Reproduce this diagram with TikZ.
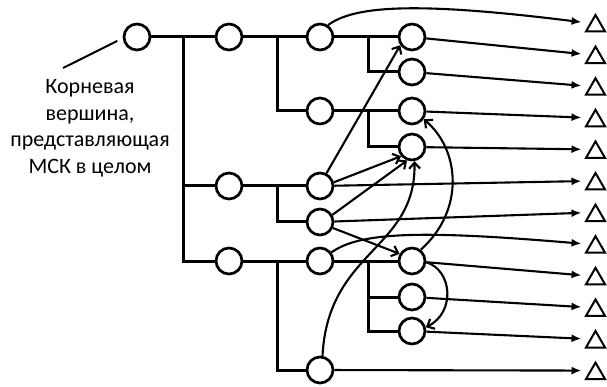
\documentclass[tikz,border=0pt]{standalone}
\usepackage{fontspec}
\setmainfont{Carlito}
\usetikzlibrary{arrows.meta,shapes.geometric,calc}
\begin{document}
\begin{tikzpicture}[x=1pt,y=-1pt,
  vert/.style={circle,draw,line width=2.7pt,minimum size=26pt,inner sep=0pt,fill=white},
  leaf/.style={regular polygon,regular polygon sides=3,draw,line width=2pt,minimum size=22pt,inner sep=0pt},
  tree/.style={line width=3pt},
  outarr/.style={line width=2.1pt,-{Latex[length=10pt,width=8pt]},shorten >=6.5pt},
  linkarr/.style={line width=2.1pt,-{Straight Barb[length=6pt,width=11pt]}},
  lbltext/.style={font=\fontsize{22}{26.7}\selectfont,align=center,anchor=north,inner sep=0pt}
]
\useasboundingbox (0,0) rectangle (607,387);
% vertices
\node[vert] (R) at (137,37) {};
\node[vert] (A) at (229,37) {};
\node[vert] (B) at (229,186) {};
\node[vert] (C) at (229,261) {};
\node[vert] (A1) at (320,37) {};
\node[vert] (A2) at (320,111) {};
\node[vert] (B1) at (320,186) {};
\node[vert] (B2) at (320,222) {};
\node[vert] (C1) at (320,261) {};
\node[vert] (C2) at (320,370) {};
\node[vert] (A1a) at (412,37) {};
\node[vert] (A1b) at (412,72) {};
\node[vert] (A2a) at (412,111) {};
\node[vert] (A2b) at (412,147) {};
\node[vert] (C1a) at (412,261) {};
\node[vert] (C1b) at (412,297) {};
\node[vert] (C1c) at (412,331) {};
% leaves
\foreach \i in {1,...,12}{
  \node[leaf] (T\i) at (595.5,{26+31.6*(\i-1)}) {};
}
% junctions
\coordinate (j0) at (183,37);
\coordinate (jA) at (277,37);
\coordinate (jB) at (277,186);
\coordinate (jC) at (277,261);
\coordinate (jA1) at (368,37);
\coordinate (jA2) at (368,111);
\coordinate (jC1) at (368,261);
% tree
\draw[tree] (R) -- (A) (j0) |- (B) (j0) |- (C);
\draw[tree] (A) -- (A1) (jA) |- (A2);
\draw[tree] (B) -- (B1) (jB) |- (B2);
\draw[tree] (C) -- (C1) (jC) |- (C2);
\draw[tree] (A1) -- (A1a) (jA1) |- (A1b);
\draw[tree] (A2) -- (A2a) (jA2) |- (A2b);
\draw[tree] (C1) -- (C1a) (jC1) |- (C1b) (jC1) |- (C1c);
% label
\node[lbltext] (lbl) at (90,79) {Корневая\\вершина,\\представляющая\\МСК в целом};
\coordinate (lead) at (63,68);
\draw[line width=2pt,shorten >=6pt] (lead) -- (R.185);
% arrows to leaves
\draw[outarr] (A1.56) .. controls (355,5) and (420,2) .. ([yshift=3pt]T1.west);
\draw[outarr] (A1a) -- ([yshift=3pt]T2.west);
\draw[outarr] (A1b) -- ([yshift=3pt]T3.west);
\draw[outarr] (A2a) -- ([yshift=3pt]T4.west);
\draw[outarr] (A2b) -- ([yshift=3pt]T5.west);
\draw[outarr] (B1) -- ([yshift=3pt]T6.west);
\draw[outarr] (B2) -- ([yshift=3pt]T7.west);
\draw[outarr] (C1.37) .. controls (360,232) and (420,230) .. ([yshift=3pt]T8.west);
\draw[outarr] (C1a) -- ([yshift=3pt]T9.west);
\draw[outarr] (C1b) -- ([yshift=3pt]T10.west);
\draw[outarr] (C1c) -- ([yshift=3pt]T11.west);
\draw[outarr] (C2) -- ([yshift=3pt]T12.west);
% links between vertices
\draw[linkarr] (B1.63) -- (A1a.215);
\draw[linkarr] (B1.15) -- (A2b.220);
\draw[linkarr] (B2.30) -- (A2b.250);
\draw[linkarr] (B2.-25) -- (C1a.150);
\draw[linkarr] (C2.80) .. controls (328,250) and (416,250) .. (A2b.280);
\draw[linkarr] (C1a.52) .. controls (465,210) and (460,150) .. (A2a.-35);
\draw[linkarr] (C1a.-5) .. controls (452,270) and (456,312) .. (C1c.15);
\end{tikzpicture}
\end{document}
